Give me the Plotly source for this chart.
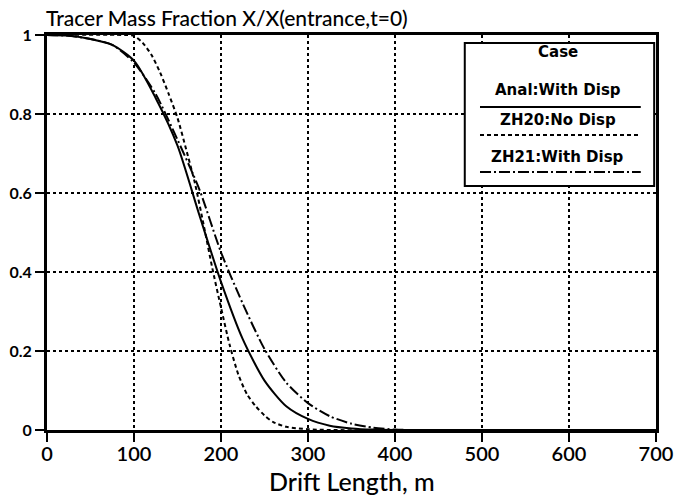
import plotly.graph_objects as go

# Drift length (m) and tracer mass fraction
x_anal = [0, 25, 50, 75, 100, 125, 150, 175, 200, 225, 250, 275, 300, 325, 350, 375, 400, 450, 700]
y_anal = [1.0, 0.998, 0.99, 0.975, 0.935, 0.84, 0.72, 0.545, 0.375, 0.23, 0.125, 0.06, 0.028, 0.011, 0.004, 0.001, 0.0, 0.0, 0.0]

x_zh20 = [0, 90, 100, 110, 120, 130, 140, 150, 160, 170, 180, 190, 200, 210, 220, 230, 240, 250, 260, 275, 300, 325, 700]
y_zh20 = [1.0, 1.0, 0.998, 0.98, 0.95, 0.905, 0.85, 0.79, 0.71, 0.625, 0.52, 0.41, 0.31, 0.215, 0.14, 0.09, 0.06, 0.037, 0.02, 0.008, 0.002, 0.0, 0.0]

x_zh21 = [0, 25, 50, 75, 100, 125, 150, 175, 200, 225, 250, 275, 300, 325, 350, 375, 400, 425, 700]
y_zh21 = [1.0, 0.998, 0.99, 0.975, 0.93, 0.85, 0.735, 0.61, 0.45, 0.32, 0.205, 0.12, 0.068, 0.035, 0.016, 0.006, 0.001, 0.0, 0.0]

x_ticks = [0, 100, 200, 300, 400, 500, 600, 700]
y_ticks = [0, 0.2, 0.4, 0.6, 0.8, 1]
y_tick_text = ["0", "0.2", "0.4", "0.6", "0.8", "1"]

legend_title = "Case"
series_names = ["Anal:With Disp", "ZH20:No Disp", "ZH21:With Disp"]
series_dash = ["solid", "4px,3px", "11px,3px,2px,3px"]

FONT = "Lato"
LEG_FONT = "DejaVu Sans"

fig = go.Figure()
for xs, ys, dash in [(x_anal, y_anal, series_dash[0]),
                     (x_zh20, y_zh20, series_dash[1]),
                     (x_zh21, y_zh21, series_dash[2])]:
    fig.add_trace(go.Scatter(x=xs, y=ys, mode="lines",
                             line=dict(color="black", width=2, dash=dash,
                                       shape="spline", smoothing=0.7),
                             showlegend=False, hoverinfo="skip"))

axis_common = dict(showline=True, linecolor="black", linewidth=3, mirror=True,
                   showgrid=True, gridcolor="black", gridwidth=1.5, griddash="dot",
                   zeroline=False, ticks="outside", ticklen=9, tickwidth=2,
                   tickcolor="black", automargin=False, ticklabeloverflow="allow")

fig.update_xaxes(range=[0, 700], tickvals=x_ticks, ticklabelstandoff=-5,
                 tickfont=dict(family=FONT, size=20, color="black", weight=600),
                 **axis_common)
fig.update_yaxes(range=[0, 1], tickvals=y_ticks, ticktext=y_tick_text,
                 tickfont=dict(family=FONT, size=16, color="black", weight=700),
                 **axis_common)

# Legend box (drawn manually to match text-over-line layout)
lx0, lx1, ly0, ly1 = 0.686, 0.997, 0.618, 0.980
shapes = [dict(type="rect", xref="paper", yref="paper", x0=lx0, x1=lx1, y0=ly0, y1=ly1,
               line=dict(color="black", width=2), fillcolor="white", layer="above")]
line_y = [0.818, 0.747, 0.653]
text_y = [0.861, 0.785, 0.691]
for yy, dash in zip(line_y, series_dash):
    shapes.append(dict(type="line", xref="paper", yref="paper", x0=0.711, x1=0.975,
                       y0=yy, y1=yy, line=dict(color="black", width=2, dash=dash),
                       layer="above"))
annotations = [dict(text=legend_title, xref="paper", yref="paper", x=0.839, y=0.957,
                    xanchor="center", yanchor="middle", showarrow=False,
                    font=dict(family=LEG_FONT, size=15, color="black", weight=700))]
for name, yy in zip(series_names, text_y):
    annotations.append(dict(text=name, xref="paper", yref="paper", x=0.839, y=yy,
                            xanchor="center", yanchor="middle", showarrow=False,
                            font=dict(family=LEG_FONT, size=15, color="black", weight=700)))
# x-axis title
annotations.append(dict(text="Drift Length, m", xref="paper", yref="paper", x=0.5, y=-0.13,
                        xanchor="center", yanchor="middle", showarrow=False,
                        font=dict(family=FONT, size=25, color="black", weight=500)))

W, H = 679, 495
fig.update_layout(
    width=W, height=H,
    margin=dict(l=47, r=23, t=35, b=65),
    paper_bgcolor="white", plot_bgcolor="white",
    title=dict(text="Tracer Mass Fraction X/X(entrance,t=0)", x=46 / W, xanchor="left",
               xref="container", y=1 - 19 / H, yanchor="middle",
               font=dict(family=FONT, size=21, color="black", weight=500)),
    shapes=shapes, annotations=annotations,
)

fig.write_html("out.html", config={"displayModeBar": False},
               post_script="document.body.style.margin='0';document.body.style.overflow='hidden';")
